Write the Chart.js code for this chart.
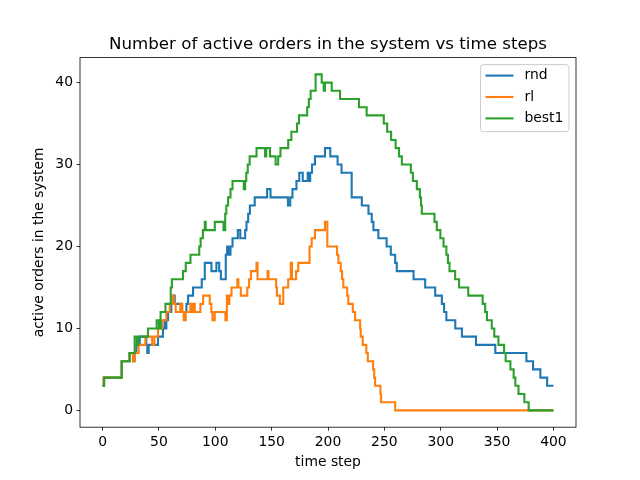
<!DOCTYPE html>
<html>
<head>
<meta charset="utf-8">
<script src="https://cdn.jsdelivr.net/npm/chart.js@4.4.1/dist/chart.umd.min.js"></script>
<style>
  html, body { margin: 0; padding: 0; background: #fff; }
  #wrap { width: 640px; height: 480px; }
</style>
</head>
<body>
<div id="wrap"><canvas id="chart" width="640" height="480"></canvas></div>
<script>
// hodnoty (body, kde se mění počet objednávek)
const seriesNames = ['rnd', 'rl', 'best1'];

const rndX = [0, 1, 17, 24, 27, 28.4, 30, 33, 38.8, 39.7, 40.9, 49.2, 53.6, 55, 56, 56.6, 58.1, 61, 62.5, 64, 70,
  74.4, 75.9, 80.3, 88, 90.7, 96.6, 101, 103.5, 105, 109.3, 110.5, 112, 113.5, 115.3, 120, 122.2, 126.5, 127.7, 129.2,
  130.7, 135, 146, 149, 164.5, 166.5, 168.5, 172, 174.5, 177.6, 182, 183.4, 184.2, 185.8, 188.4, 197.3, 202, 208.5,
  212, 221, 230, 235.9, 238.8, 240.3, 244.7, 252, 255.7, 259.6, 261, 275.9, 286.2, 295.1, 301, 303, 305, 312.9,
  318.8, 331.3, 348.4, 376, 381.9, 388.4, 394.4, 400];
const rndY = [3, 4, 6, 7, 6, 7, 8, 9, 8, 7, 8, 9, 10, 11, 10, 11, 12, 13, 14, 13, 12,
  13, 14, 15, 16, 18, 17, 18, 17, 16, 19, 20, 19, 20, 21, 22, 21, 22, 23, 24,
  25, 26, 27, 26, 25, 26, 27, 28, 29, 28, 29, 28, 29, 30, 31, 32, 31, 30,
  29, 26, 25, 24, 23, 22, 21, 20, 19, 18, 17, 16, 15, 14, 13, 12, 11, 10,
  9, 8, 7, 6, 5, 4, 3, 3];

const rlX = [0, 1, 17, 24, 27, 28.4, 32, 38, 44, 46, 49.2, 52.7, 56.6, 59.6, 62, 63.1, 64.9, 69, 70.8, 72, 73.8,
  77.9, 79.7, 80.8, 81.8, 86.8, 89.2, 95.1, 96.5, 97.5, 99.5, 109, 110.3, 111.5, 112.5, 114.4, 119.6, 120.5, 122.7,
  128.4, 130, 131.6, 136.6, 137.5, 146.4, 147.2, 154, 154.7, 157.3, 160.3, 164.7, 167, 168, 171.7, 173.6, 183.6,
  185.5, 188.4, 197.3, 199.4, 208, 209.2, 211.3, 212.5, 213.6, 217, 218, 222, 224, 228.5, 229, 230.8, 234, 235.3,
  240, 241, 241.8, 246.5, 247.1, 259.6, 400];
const rlY = [3, 4, 6, 7, 6, 7, 8, 9, 8, 9, 10, 11, 12, 13, 14, 13, 12, 13, 12, 11, 12,
  13, 12, 13, 12, 13, 14, 13, 12, 11, 12, 11, 14, 13, 14, 15, 16, 15, 14,
  15, 16, 17, 18, 16, 17, 16, 15, 14, 13, 15, 16, 18, 16, 17, 18, 20,
  21, 22, 23, 20, 19, 18, 17, 16, 15, 14, 13, 12, 11, 10, 9, 8, 7, 6,
  5, 4, 3, 2, 1, 0, 0];

const bestX = [0, 1.5, 17, 24, 28.5, 30.5, 31.7, 40.3, 48, 50, 51.5, 55.8, 60.5, 61.5, 71.4, 73.8, 78, 85.8, 87,
  89, 90.7, 91.5, 99.6, 107.3, 108.8, 109.8, 111.4, 113.5, 115.3, 125.3, 126.5, 127.5, 128.8, 130.5, 136.6, 144.2,
  145.2, 148.6, 153.5, 155.8, 157.8, 164.7, 167.5, 172.5, 174.3, 181.5, 183, 184.6, 189, 194.4, 196.2, 197.3,
  203.3, 210.7, 227.5, 234.3, 249.5, 252.5, 256, 260, 263, 265.5, 273.5, 275.3, 278.8, 281.5, 282.5, 283.2, 294.5,
  296.5, 299.7, 302.5, 305, 306.4, 307.8, 312.8, 316.3, 324.4, 337.2, 339.4, 341, 345.3, 347.5, 351.2, 356.2,
  357.6, 361.8, 364.7, 366.2, 369, 374.2, 378, 400];
const bestY = [3, 4, 6, 7, 9, 8, 9, 10, 11, 10, 12, 13, 15, 16, 17, 18, 19, 20, 21,
  22, 23, 22, 23, 22, 24, 25, 26, 27, 28, 27, 28, 29, 30, 31, 32, 31,
  32, 31, 30, 31, 32, 33, 34, 35, 36, 37, 38, 39, 41, 40, 39, 40,
  39, 38, 37, 36, 35, 34, 33, 32, 31, 30, 29, 28, 27, 26, 25, 24, 23,
  22, 21, 20, 19, 18, 17, 16, 15, 14, 13, 12, 11, 10, 9, 8, 7,
  6, 5, 4, 3, 2, 1, 0, 0];

const xTicks = [0, 50, 100, 150, 200, 250, 300, 350, 400];
const yTicks = [0, 10, 20, 30, 40];

const colors = ['#1f77b4', '#ff7f0e', '#2ca02c'];
const titleText = 'Number of active orders in the system vs time steps';
const FONT = '"DejaVu Sans", sans-serif';

function toPoints(xs, ys) {
    return xs.map((x, i) => ({ x: x, y: ys[i] }));
}

// rámeček kolem grafu, nadpis a legenda jako v matplotlibu
const decor = {
    id: 'decor',
    afterDatasetsDraw(chart) {
        const { ctx, chartArea: a } = chart;
        ctx.save();
        ctx.strokeStyle = '#000';
        ctx.lineWidth = 0.8;
        ctx.strokeRect(a.left, a.top, a.right - a.left, a.bottom - a.top);

        ctx.fillStyle = '#000';
        ctx.font = '16.67px ' + FONT;
        ctx.textAlign = 'center';
        ctx.textBaseline = 'alphabetic';
        ctx.fillText(titleText, (a.left + a.right) / 2, a.top - 8.3);

        // legenda vpravo nahoře
        const bx = a.right - 95.5, by = a.top + 7, bw = 88.5, bh = 67;
        ctx.beginPath();
        if (ctx.roundRect) ctx.roundRect(bx, by, bw, bh, 3);
        else ctx.rect(bx, by, bw, bh);
        ctx.fillStyle = 'rgba(255,255,255,0.8)';
        ctx.fill();
        ctx.strokeStyle = '#cccccc';
        ctx.lineWidth = 1;
        ctx.stroke();

        ctx.font = '13.9px ' + FONT;
        ctx.textAlign = 'left';
        ctx.textBaseline = 'middle';
        chart.data.datasets.forEach((ds, i) => {
            const y = by + 11 + i * 21.4;
            ctx.strokeStyle = ds.borderColor;
            ctx.lineWidth = 2.1;
            ctx.beginPath();
            ctx.moveTo(bx + 5, y);
            ctx.lineTo(bx + 33, y);
            ctx.stroke();
            ctx.fillStyle = '#000';
            ctx.fillText(ds.label, bx + 44, y);
        });
        ctx.restore();
    }
};

const datasets = [
    { label: seriesNames[0], data: toPoints(rndX, rndY), borderColor: colors[0], order: 2 },
    { label: seriesNames[1], data: toPoints(rlX, rlY), borderColor: colors[1], order: 1 },
    { label: seriesNames[2], data: toPoints(bestX, bestY), borderColor: colors[2], order: 0 }
].map(d => Object.assign(d, { borderWidth: 2.1, pointRadius: 0, fill: false, stepped: true, tension: 0 }));

const tickFont = { family: FONT, size: 13.9 };

new Chart(document.getElementById('chart'), {
    type: 'line',
    data: { datasets },
    options: {
        responsive: false,
        animation: false,
        devicePixelRatio: 1,
        layout: { padding: { top: 57.6, right: 64, left: 0, bottom: 0 } },
        plugins: { legend: { display: false }, tooltip: { enabled: false }, title: { display: false } },
        scales: {
            x: {
                type: 'linear',
                min: -20, max: 420,
                afterBuildTicks: s => { s.ticks = xTicks.map(v => ({ value: v })); },
                afterFit: s => { s.height = 52.8; },
                ticks: { color: '#000', font: tickFont, padding: 3.5, maxRotation: 0 },
                grid: { drawOnChartArea: false, drawTicks: true, tickLength: 3.5, color: '#000', lineWidth: 0.8 },
                border: { display: false },
                title: { display: true, text: 'time step', color: '#000', font: tickFont, padding: { top: 0, bottom: 9.7 } }
            },
            y: {
                type: 'linear',
                min: -2.05, max: 43.05,
                afterBuildTicks: s => { s.ticks = yTicks.map(v => ({ value: v })); },
                afterFit: s => { s.width = 80; },
                ticks: { color: '#000', font: tickFont, padding: 3.5 },
                grid: { drawOnChartArea: false, drawTicks: true, tickLength: 3.5, color: '#000', lineWidth: 0.8 },
                border: { display: false },
                title: { display: true, text: 'active orders in the system', color: '#000', font: tickFont, padding: { top: 30.7, bottom: 0 } }
            }
        }
    },
    plugins: [decor]
});
</script>
</body>
</html>
